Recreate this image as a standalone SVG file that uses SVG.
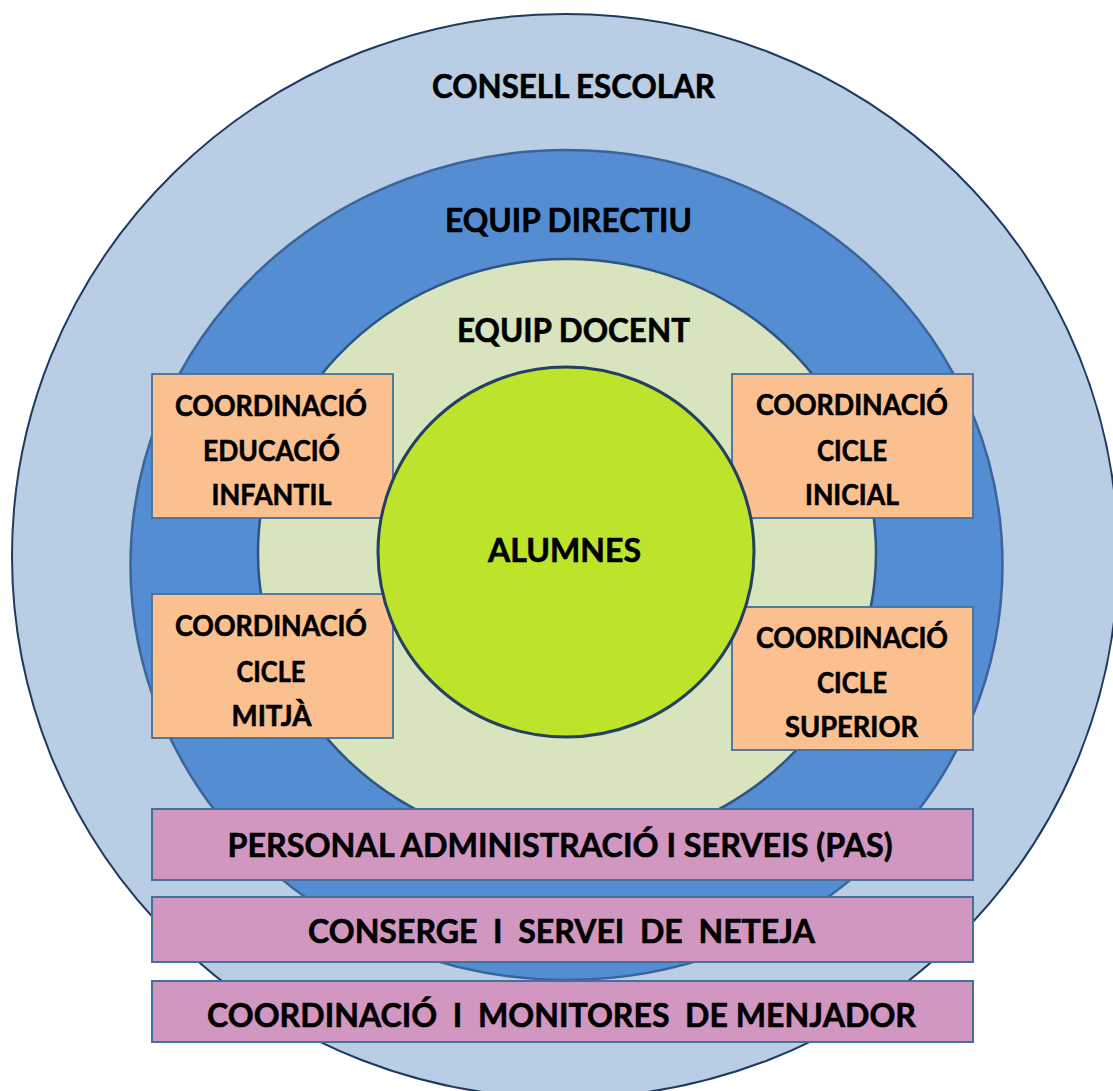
<svg xmlns="http://www.w3.org/2000/svg" width="1113" height="1091" viewBox="0 0 1113 1091">
<style>
.t{font-family:Lato,"Open Sans","Liberation Sans",sans-serif;font-weight:700;fill:#000;stroke:#000;stroke-width:0.6;text-anchor:middle}
.big{font-size:33px}
.sm{font-size:28.5px}
.orange{fill:#FAC090;stroke:#41719C;stroke-width:1.8}
.pink{fill:#D197C0;stroke:#41719C;stroke-width:2}
</style>
<rect width="1113" height="1091" fill="#FFFFFF"/>
<g id="consell-escolar">
<ellipse cx="565" cy="556" rx="553" ry="542" fill="#B9CDE5" stroke="#1F3A5F" stroke-width="2"/>
<text class="t big" x="573.5" y="97.5" textLength="283" lengthAdjust="spacingAndGlyphs">CONSELL ESCOLAR</text>
</g>
<g id="equip-directiu">
<ellipse cx="566.5" cy="565" rx="436" ry="415" fill="#558DD3" stroke="#3A649A" stroke-width="2.5"/>
<text class="t big" x="568.5" y="232" textLength="247" lengthAdjust="spacingAndGlyphs">EQUIP DIRECTIU</text>
</g>
<g id="equip-docent">
<ellipse cx="567" cy="553" rx="309" ry="294" fill="#D7E4BD" stroke="#2F5382" stroke-width="2.5"/>
<text class="t big" x="573.5" y="342" textLength="233" lengthAdjust="spacingAndGlyphs">EQUIP DOCENT</text>
</g>
<g id="coord-infantil">
<rect class="orange" x="152" y="374" width="241" height="144"/>
<text class="t sm" x="271" y="416" textLength="192" lengthAdjust="spacingAndGlyphs">COORDINACIÓ</text>
<text class="t sm" x="271.5" y="460.5" textLength="137" lengthAdjust="spacingAndGlyphs">EDUCACIÓ</text>
<text class="t sm" x="271.5" y="505" textLength="120" lengthAdjust="spacingAndGlyphs">INFANTIL</text>
</g>
<g id="coord-mitja">
<rect class="orange" x="152" y="594" width="241" height="144"/>
<text class="t sm" x="271" y="636" textLength="192" lengthAdjust="spacingAndGlyphs">COORDINACIÓ</text>
<text class="t sm" x="271" y="681.5" textLength="69" lengthAdjust="spacingAndGlyphs">CICLE</text>
<text class="t sm" x="271.5" y="726" textLength="80" lengthAdjust="spacingAndGlyphs">MITJÀ</text>
</g>
<g id="coord-inicial">
<rect class="orange" x="732" y="374" width="241" height="144"/>
<text class="t sm" x="852" y="415" textLength="192" lengthAdjust="spacingAndGlyphs">COORDINACIÓ</text>
<text class="t sm" x="852" y="461" textLength="70" lengthAdjust="spacingAndGlyphs">CICLE</text>
<text class="t sm" x="852" y="505" textLength="94" lengthAdjust="spacingAndGlyphs">INICIAL</text>
</g>
<g id="coord-superior">
<rect class="orange" x="732" y="607" width="241" height="143"/>
<text class="t sm" x="852" y="647.5" textLength="192" lengthAdjust="spacingAndGlyphs">COORDINACIÓ</text>
<text class="t sm" x="852" y="693" textLength="70" lengthAdjust="spacingAndGlyphs">CICLE</text>
<text class="t sm" x="851.5" y="736.5" textLength="133" lengthAdjust="spacingAndGlyphs">SUPERIOR</text>
</g>
<g id="alumnes">
<ellipse cx="566" cy="552" rx="188" ry="185" fill="#BDE32A" stroke="#243F60" stroke-width="3"/>
<text class="t big" x="564.5" y="562" textLength="153" lengthAdjust="spacingAndGlyphs">ALUMNES</text>
</g>
<g id="pas">
<rect class="pink" x="152" y="809" width="821" height="71"/>
<text class="t big" x="560" y="857" textLength="665" lengthAdjust="spacingAndGlyphs">PERSONAL ADMINISTRACIÓ I SERVEIS (PAS)</text>
</g>
<g id="conserge">
<rect class="pink" x="152" y="897" width="821" height="65"/>
<text class="t big" x="561.5" y="943" textLength="507" lengthAdjust="spacingAndGlyphs" xml:space="preserve">CONSERGE  I  SERVEI  DE  NETEJA</text>
</g>
<g id="menjador">
<rect class="pink" x="152" y="981" width="821" height="61"/>
<text class="t big" x="561.5" y="1027" textLength="709" lengthAdjust="spacingAndGlyphs" xml:space="preserve">COORDINACIÓ  I  MONITORES  DE MENJADOR</text>
</g>
<g id="connectors"/>
</svg>
